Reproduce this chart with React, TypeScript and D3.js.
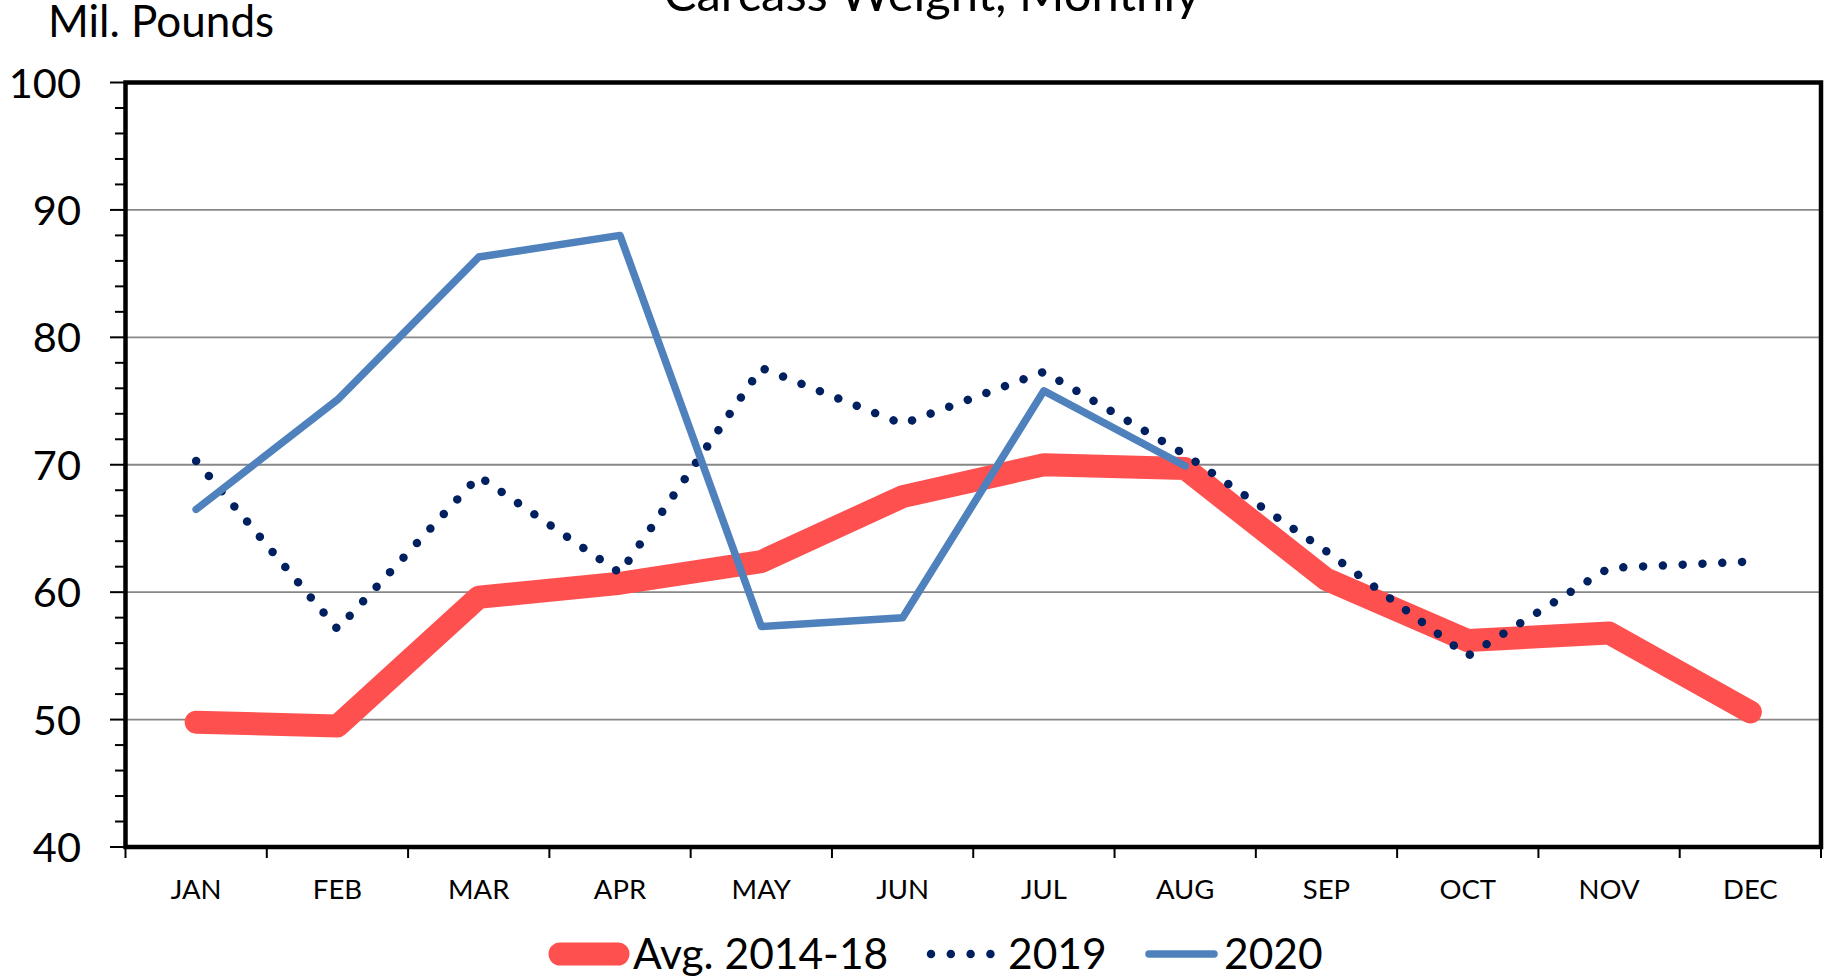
import React from "react";
import * as d3 from "d3";

const months = ["JAN", "FEB", "MAR", "APR", "MAY", "JUN", "JUL", "AUG", "SEP", "OCT", "NOV", "DEC"];
const avg1418 = [49.8, 49.5, 59.6, 60.7, 62.4, 67.5, 70.0, 69.7, 61.0, 56.2, 56.8, 50.6];
const y2019 = [70.3, 57.1, 69.1, 61.5, 77.6, 73.2, 77.3, 70.8, 63.2, 55.0, 61.9, 62.4];
const y2020: (number | null)[] = [66.5, 75.1, 86.3, 88.0, 57.3, 58.0, 75.8, 69.9, null, null, null, null];
const yTicks = [40, 50, 60, 70, 80, 90, 100];
const gridValues = [50, 60, 70, 80, 90];
const minorTicks = d3.range(40, 101, 2);

const W = 1828;
const H = 977;
const FONT = "Lato, 'Open Sans', sans-serif";

export default function App() {
  const left = 125.5, right = 1821, top = 82.5, bottom = 847;
  const x = d3.scaleBand<string>().domain(months).range([left, right]).padding(0);
  const y = d3.scaleLinear().domain([40, 100]).range([bottom, top]);
  const cx = (i: number) => (x(months[i]) as number) + x.bandwidth() / 2;

  const line = d3
    .line<number | null>()
    .defined((d) => d !== null)
    .x((_, i) => cx(i))
    .y((d) => y(d as number));

  const red = "#FF5050";
  const navy = "#002060";
  const blue = "#4F81BD";

  return (
    <svg width={W} height={H} style={{ position: "absolute", left: 0, top: 0, display: "block", background: "#fff" }} fontFamily={FONT}>
      {/* title (cut at top) */}
      <text x={932} y={11} textAnchor="middle" fontSize={49} fill="#000">Carcass Weight, Monthly</text>
      <text x={48} y={37} fontSize={44} fill="#000">Mil. Pounds</text>

      {/* gridlines */}
      {gridValues.map((v) => (
        <line key={v} x1={left} x2={right} y1={y(v)} y2={y(v)} stroke="#878787" strokeWidth={1.8} />
      ))}

      {/* y minor / major ticks */}
      {minorTicks.map((v) => (
        <line key={"m" + v} x1={v % 10 === 0 ? 110 : 115} x2={left} y1={y(v)} y2={y(v)} stroke="#000" strokeWidth={2} />
      ))}
      {yTicks.map((v) => (
        <text key={"t" + v} x={81} y={y(v) + 15} textAnchor="end" fontSize={41.5} fill="#000">{v}</text>
      ))}

      {/* x ticks */}
      {months.map((m) => (
        <line key={"x" + m} x1={x(m) as number} x2={x(m) as number} y1={bottom} y2={858} stroke="#000" strokeWidth={2} />
      ))}
      <line x1={right} x2={right} y1={bottom} y2={858} stroke="#000" strokeWidth={2} />
      {months.map((m, i) => (
        <text key={"l" + m} x={cx(i)} y={899} textAnchor="middle" fontSize={27.5} fill="#000">{m}</text>
      ))}

      {/* series */}
      <path d={line(avg1418) || ""} fill="none" stroke={red} strokeWidth={23} strokeLinecap="round" strokeLinejoin="round" />
      <path d={line(y2019) || ""} fill="none" stroke={navy} strokeWidth={8.5} strokeLinecap="round" strokeDasharray="0.01 19.8" />
      <path d={line(y2020) || ""} fill="none" stroke={blue} strokeWidth={7.5} strokeLinecap="round" strokeLinejoin="round" />

      {/* plot border */}
      <rect x={left} y={top} width={right - left} height={bottom - top} fill="none" stroke="#000" strokeWidth={4.5} />

      {/* legend */}
      <line x1={560} x2={618} y1={954} y2={954} stroke={red} strokeWidth={23} strokeLinecap="round" />
      <text x={633} y={969} fontSize={42.5} fill="#000">Avg. 2014-18</text>
      <line x1={931} x2={1000} y1={954} y2={954} stroke={navy} strokeWidth={8.5} strokeLinecap="round" strokeDasharray="0.01 19.8" />
      <text x={1008} y={969} fontSize={42.5} fill="#000">2019</text>
      <line x1={1149} x2={1214} y1={954} y2={954} stroke={blue} strokeWidth={7.5} strokeLinecap="round" />
      <text x={1224} y={969} fontSize={42.5} fill="#000">2020</text>
    </svg>
  );
}
